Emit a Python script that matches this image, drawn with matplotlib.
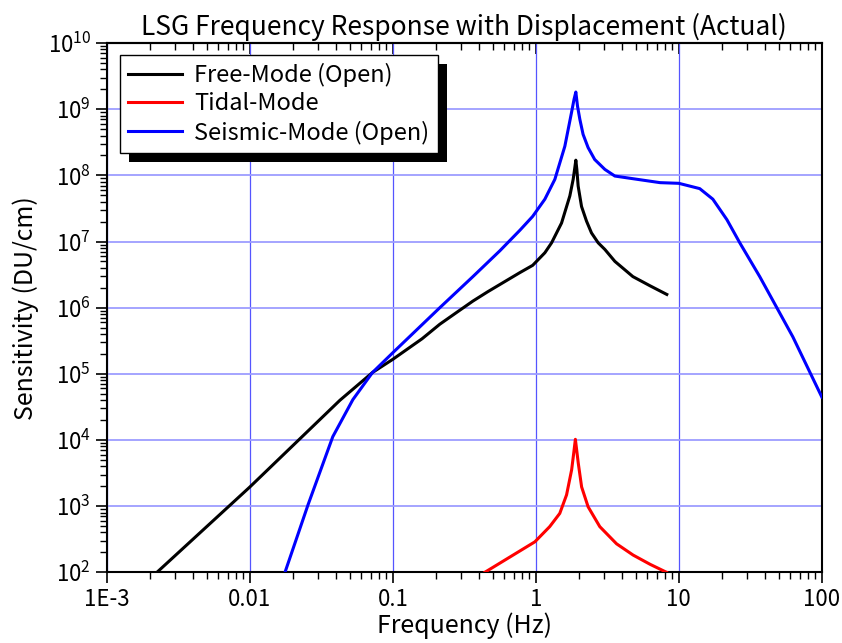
import numpy as np
import matplotlib
matplotlib.use('Agg')
import matplotlib.pyplot as plt
from matplotlib.patches import Rectangle
from matplotlib.ticker import FixedLocator, FixedFormatter, LogLocator, NullFormatter

plt.rcParams['font.family'] = ['Noto Sans CJK JP', 'DejaVu Sans']
plt.rcParams['mathtext.fontset'] = 'custom'
plt.rcParams['mathtext.rm'] = 'Noto Sans CJK JP'

# 読み取り値 (周波数 Hz, 感度は log10 で)
free_f = [0.00224, 0.01, 0.0426, 0.072, 0.1, 0.16, 0.213, 0.28, 0.363, 0.46, 0.56,
          0.773, 0.95, 1.156, 1.288, 1.513, 1.729, 1.824, 1.874, 1.904, 1.935,
          1.976, 2.087, 2.26, 2.45, 2.73, 3.04, 3.57, 4.77, 6.3, 8.24]
free_log = [2.0, 3.29, 4.6, 5.02, 5.22, 5.53, 5.75, 5.93, 6.10, 6.24, 6.35,
            6.53, 6.64, 6.83, 6.98, 7.28, 7.69, 7.94, 8.12, 8.23, 8.09,
            7.84, 7.53, 7.31, 7.13, 6.98, 6.88, 6.70, 6.47, 6.33, 6.2]

tidal_f = [0.44, 0.658, 0.984, 1.25, 1.47, 1.64, 1.78, 1.84, 1.89, 1.98, 2.09,
           2.32, 2.80, 3.67, 4.79, 6.3, 8.2]
tidal_log = [2.0, 2.23, 2.46, 2.69, 2.89, 3.17, 3.55, 3.80, 4.01, 3.65, 3.29,
             2.99, 2.69, 2.43, 2.26, 2.12, 2.0]

seis_f = [0.0176, 0.0255, 0.038, 0.0525, 0.072, 0.1, 0.213, 0.363, 0.56,
          0.773, 0.95, 1.156, 1.358, 1.595, 1.776, 1.85, 1.904, 1.955, 2.03,
          2.14, 2.32, 2.58, 3.04, 3.57, 4.77, 7.4, 10, 14, 17.3, 21.7, 26.7,
          36.8, 62.7, 100]
seis_log = [2.0, 3.02, 4.05, 4.61, 5.02, 5.32, 6.0, 6.47, 6.86,
            7.17, 7.38, 7.64, 7.94, 8.44, 8.95, 9.15, 9.26, 9.05, 8.85,
            8.62, 8.42, 8.24, 8.09, 7.99, 7.95, 7.89, 7.88, 7.80, 7.64, 7.33, 6.98,
            6.47, 5.56, 4.65]

xticks = [1e-3, 1e-2, 1e-1, 1, 10, 100]
xlabels = ['1E-3', '0.01', '0.1', '1', '10', '100']

fig = plt.figure(figsize=(8.42, 6.43), dpi=100)
ax = fig.add_axes([0.127, 0.110, 0.849, 0.823])

ax.plot(free_f, 10 ** np.array(free_log), color='black', lw=2.2, label='Free-Mode (Open)', zorder=3)
ax.plot(tidal_f, 10 ** np.array(tidal_log), color='red', lw=2.2, label='Tidal-Mode', zorder=3)
ax.plot(seis_f, 10 ** np.array(seis_log), color='blue', lw=2.2, label='Seismic-Mode (Open)', zorder=3)

ax.set_xscale('log')
ax.set_yscale('log')
ax.set_xlim(1e-3, 100)
ax.set_ylim(1e2, 1e10)

ax.xaxis.set_major_locator(FixedLocator(xticks))
ax.xaxis.set_major_formatter(FixedFormatter(xlabels))
ax.xaxis.set_minor_locator(LogLocator(base=10, subs=np.arange(2, 10), numticks=20))
ax.xaxis.set_minor_formatter(NullFormatter())
ax.yaxis.set_major_locator(LogLocator(base=10, numticks=20))
ax.yaxis.set_minor_locator(LogLocator(base=10, subs=np.arange(2, 10), numticks=20))
ax.yaxis.set_minor_formatter(NullFormatter())

ax.tick_params(axis='both', which='major', direction='out', length=8, width=1.2, labelsize=16)
ax.tick_params(axis='both', which='minor', direction='out', length=5, width=1.0)
ax.tick_params(right=False, top=False)

# 上側の目盛りは内向き
top = ax.secondary_xaxis('top')
top.xaxis.set_major_locator(FixedLocator(xticks))
top.xaxis.set_minor_locator(LogLocator(base=10, subs=np.arange(2, 10), numticks=20))
top.tick_params(axis='x', which='major', direction='in', length=8, width=1.2, labeltop=False)
top.tick_params(axis='x', which='minor', direction='in', length=5, width=1.0)
top.spines['top'].set_linewidth(1.5)

for s in ax.spines.values():
    s.set_linewidth(1.5)

ax.grid(True, which='major', axis='x', color='#5555ff', lw=0.9)
ax.grid(True, which='major', axis='y', color='#9d9dff', lw=1.3)

ax.set_xlabel('Frequency (Hz)', fontsize=18, labelpad=1)
ax.set_ylabel('Sensitivity (DU/cm)', fontsize=18, labelpad=6)
ax.set_title('LSG Frequency Response with Displacement (Actual)', fontsize=19, pad=6)

leg = ax.legend(loc='upper left', bbox_to_anchor=(0.018, 0.978), borderaxespad=0,
                fontsize=17, frameon=True, fancybox=False, edgecolor='black',
                framealpha=1, handlelength=2.3, borderpad=0.35, labelspacing=0.22,
                handletextpad=0.5)
leg.get_frame().set_linewidth(1.0)
leg.set_zorder(6)

# 凡例の影
fig.canvas.draw()
bb = leg.get_window_extent()
shadow = Rectangle((bb.x0 + 9, bb.y0 - 9), bb.width, bb.height, transform=None,
                   facecolor='black', edgecolor='none', zorder=5)
ax.add_artist(shadow)

plt.savefig('out.png', dpi=100)
